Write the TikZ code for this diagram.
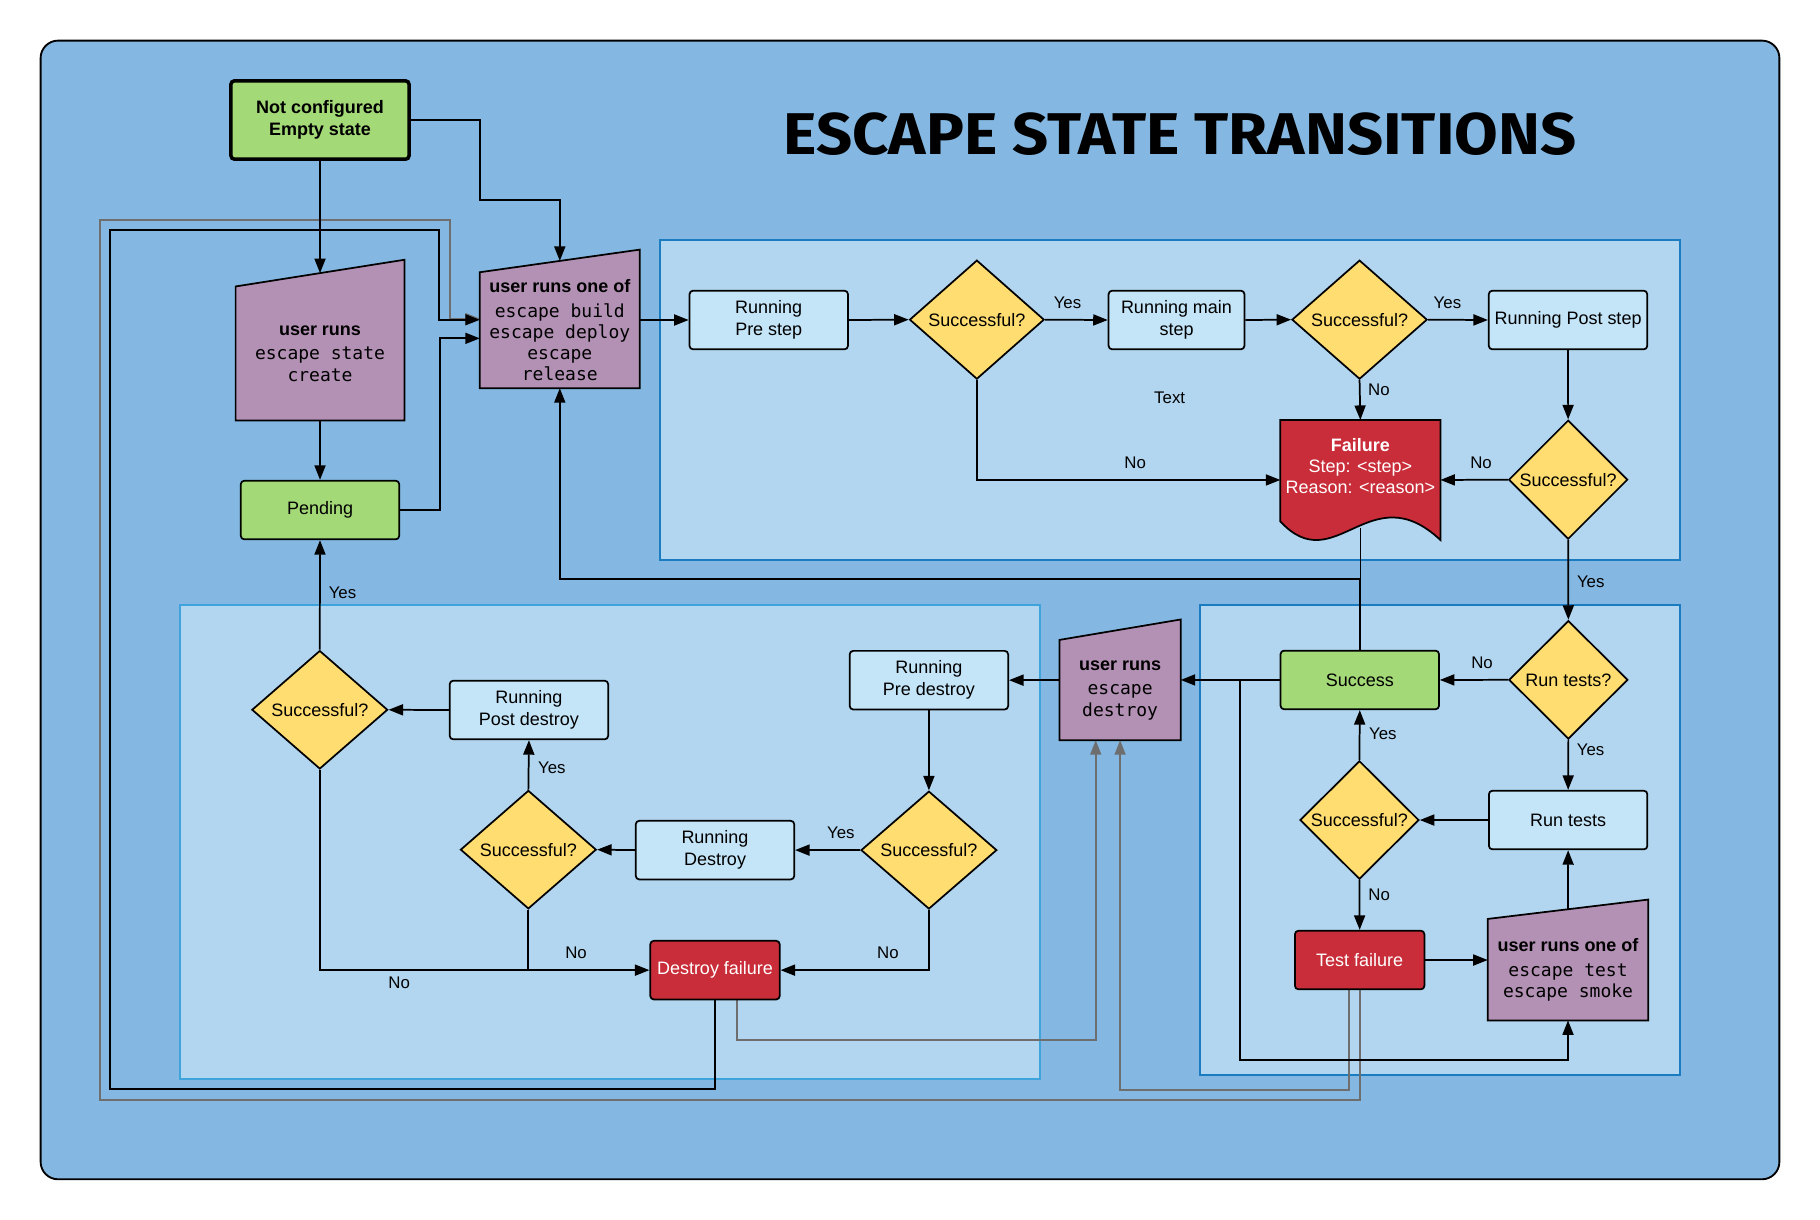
\documentclass[tikz,border=0pt]{standalone}
\usepackage{graphicx}
\usepackage{fontspec}
\setmainfont{Liberation Sans}
\setmonofont{DejaVu Sans Mono}
\newfontfamily\titlefont{Fira Sans}
\usetikzlibrary{shapes.geometric,arrows.meta,calc}

\definecolor{outerbg}{HTML}{84B8E2}
\definecolor{panelbg}{HTML}{B2D6F0}
\definecolor{paneldark}{HTML}{1B7CC0}
\definecolor{panellight}{HTML}{3FA4DC}
\definecolor{boxblue}{HTML}{C4E4F7}
\definecolor{grn}{HTML}{A3D977}
\definecolor{yel}{HTML}{FFDD71}
\definecolor{purp}{HTML}{B391B5}
\definecolor{redc}{HTML}{C92D39}
\definecolor{greyc}{HTML}{6E6E6E}

\pgfdeclarelayer{bglayer}
\pgfdeclarelayer{edgelayer}
\pgfdeclarelayer{shapelayer}
\pgfsetlayers{bglayer,edgelayer,shapelayer,main}

\newcommand\manualshape[2]{%
  \begin{pgfonlayer}{shapelayer}
    \filldraw[fill=purp,draw=black,line width=1.5pt,line join=miter]
      (#1.south west) -- (#1.south east) -- ($(#1.north east)+(0,-#2)$) -- (#1.north west) -- cycle;
  \end{pgfonlayer}}

\begin{document}
\begin{tikzpicture}[x=1pt,y=-1pt,
  base/.style={font=\fontsize{15.5}{19}\selectfont, align=center, inner sep=0pt},
  box/.style={base, rectangle, rounded corners=3pt, draw=black, line width=1.5pt, fill=boxblue,
              minimum width=136.5pt, minimum height=50.5pt},
  greenbox/.style={box, fill=grn},
  redbox/.style={box, fill=redc, text=white, minimum width=111.5pt},
  dia/.style={base, diamond, draw=black, line width=1.5pt, fill=yel, aspect=1.1},
  manual/.style={base, rectangle, draw=none, fill=none, font=\fontsize{15.5}{18.3}\selectfont},
  lbl/.style={font=\fontsize{14.5}{17}\selectfont, inner sep=0pt},
  arr/.style={draw=black, line width=1.5pt, -{Triangle[length=12.5pt,width=9.5pt]}},
  ln/.style={draw=black, line width=1.5pt},
  garr/.style={draw=greyc, line width=1.5pt, -{Triangle[length=12.5pt,width=9.5pt]}}]
\useasboundingbox (0,0) rectangle (1568,1051);

\begin{pgfonlayer}{bglayer}
  \fill[white] (0,0) rectangle (1568,1051);
  \filldraw[fill=outerbg, draw=black, line width=1.6pt, rounded corners=15pt] (35,35) rectangle (1533,1016);
  \filldraw[fill=panelbg, draw=paneldark, line width=1.7pt] (568.5,207) rectangle (1447,482.5);
  \filldraw[fill=panelbg, draw=panellight, line width=1.7pt] (155,521) rectangle (895.8,930);
  \filldraw[fill=panelbg, draw=paneldark, line width=1.7pt] (1033.5,521) rectangle (1447.4,925.8);
\end{pgfonlayer}

% title
\node (title) at (1016.6,115.5) {\resizebox{683pt}{36pt}{\titlefont\bfseries ESCAPE STATE TRANSITIONS}};

% left column
\node[greenbox, line width=3pt, minimum width=153.5pt, minimum height=67.5pt, font=\fontsize{15.5}{19}\selectfont\bfseries]
  (notconf) at (275.7,103.4) {Not configured\\Empty state};
\node[manual, minimum width=145pt, minimum height=115pt] (create) at (275.7,304.5)
  {\textbf{user runs}\\[3pt]\texttt{escape state}\\\texttt{create}};
\manualshape{create}{23}
\coordinate (createtop) at ($(create.north)+(0,-11.5)$);
\node[greenbox] (pending) at (275.7,439.4) {Pending};
\node[manual, minimum width=137.5pt, minimum height=99.5pt] (runsone) at (482.3,284.5)
  {\textbf{user runs one of}\\[3pt]\texttt{escape build}\\\texttt{escape deploy}\\\texttt{escape}\\\texttt{release}};
\manualshape{runsone}{19.5}
\coordinate (runsonetop) at ($(runsone.north)+(0,-9.75)$);

% upper panel
\node[box] (prestep) at (662.3,275.7) {Running\\Pre step};
\node[dia, minimum width=116pt, minimum height=102.5pt] (succ1) at (841.6,275.4) {Successful?};
\node[box, minimum width=117pt] (mainstep) at (1013.6,275.7) {Running main\\step};
\node[dia, minimum width=116.5pt, minimum height=102.5pt] (succ2) at (1171.3,275.4) {Successful?};
\node[box] (poststep) at (1350.9,275.7) {Running Post step};
\node[manual, minimum width=137.5pt, minimum height=103pt, text=white] (failure) at (1172,413.5)
  {\textbf{Failure}\\Step: <step>\\Reason: <reason>\\ \strut};
\begin{pgfonlayer}{shapelayer}
  \filldraw[fill=redc, draw=black, line width=1.5pt]
    (failure.north west) -- (failure.north east) -- (failure.south east)
    .. controls ($(failure.south west)+(77,-57)$) and ($(failure.south west)+(47,35)$) ..
    ($(failure.south west)+(0,-16)$) -- cycle;
\end{pgfonlayer}
\node[dia, minimum width=102.5pt, minimum height=102.5pt, aspect=1] (succ3) at (1351,413.3) {Successful?};
\node[lbl] (txt) at (1007.7,342.3) {Text};

% right lower panel
\node[dia, minimum width=102.5pt, minimum height=102pt, aspect=1] (runtestsq) at (1351.2,585.7) {Run tests?};
\node[greenbox] (success) at (1171.5,585.8) {Success};
\node[box] (runtests) at (1351,706.5) {Run tests};
\node[dia, minimum width=102.5pt, minimum height=102pt, aspect=1] (succ4) at (1171.2,706.5) {Successful?};
\node[redbox] (testfail) at (1171.4,827.1) {Test failure};
\node[manual, minimum width=138pt, minimum height=87pt] (testsmoke) at (1350.9,835.4)
  {\textbf{user runs one of}\\[3pt]\texttt{escape test}\\\texttt{escape smoke}};
\manualshape{testsmoke}{16.7}
\coordinate (testsmoketop) at ($(testsmoke.north)+(0,-8.35)$);
\node[manual, minimum width=104pt, minimum height=86pt] (destroy) at (965,594.5)
  {\textbf{user runs}\\[3pt]\texttt{escape}\\\texttt{destroy}};
\manualshape{destroy}{17.6}

% left lower panel
\node[box] (predestroy) at (800.3,586) {Running\\Pre destroy};
\node[dia, minimum width=117pt, minimum height=101.5pt] (succ5) at (800.3,732.4) {Successful?};
\node[box] (rundestroy) at (616,732.4) {Running\\Destroy};
\node[dia, minimum width=117pt, minimum height=102pt] (succ6) at (455.2,732) {Successful?};
\node[box] (postdestroy) at (455.7,611.7) {Running\\Post destroy};
\node[dia, minimum width=117pt, minimum height=102pt] (succ7) at (275.5,611.5) {Successful?};
\node[redbox] (destroyfail) at (616,835.8) {Destroy failure};

% labels
\node[lbl] (l1) at (919.7,260.8) {Yes};
\node[lbl] (l2) at (1247,260.8) {Yes};
\node[lbl] (l3) at (1188,336) {No};
\node[lbl] (l4) at (978,398.6) {No};
\node[lbl] (l5) at (1276,398.6) {No};
\node[lbl] (l6) at (1370.5,501) {Yes};
\node[lbl] (l7) at (1276.8,571) {No};
\node[lbl] (l8) at (1191.4,632.2) {Yes};
\node[lbl] (l9) at (1370.4,645.9) {Yes};
\node[lbl] (l10) at (1188.2,771.2) {No};
\node[lbl] (l11) at (724.4,717.6) {Yes};
\node[lbl] (l12) at (765,821) {No};
\node[lbl] (l13) at (475.4,661.3) {Yes};
\node[lbl] (l14) at (496.3,821) {No};
\node[lbl] (l15) at (343.9,846.3) {No};
\node[lbl] (l16) at (295.1,510.7) {Yes};

% connectors
\begin{pgfonlayer}{edgelayer}
  % grey
  \draw[garr] (testfail.south) |- (86,947.7) |- (387.7,189.5) |- ([yshift=10pt]runsone.west);
  \draw[garr] ([xshift=-9pt]testfail.south) -- ++(0,86) -| (destroy.south);
  \draw[garr] ([xshift=19pt]destroyfail.south) -- ++(0,34) -| ([xshift=-21pt]destroy.south);
  % black
  \draw[arr] (notconf.south) -- (createtop);
  \draw[arr] (notconf.east) -| (413.5,172) -| (runsonetop);
  \draw[arr] (create.south) -- (pending.north);
  \draw[arr] (pending.east) -| ([xshift=-34.5pt,yshift=-7pt]runsone.west) -- ([yshift=-7pt]runsone.west);
  \draw[arr] (destroyfail.south) |- (94.8,938) |- (378.5,198) |- ([yshift=9pt]runsone.west);
  \draw[arr] (runsone.east |- prestep.west) -- (prestep.west);
  \draw[arr] (prestep.east) -- (succ1.west);
  \draw[arr] (succ1.east) -- (mainstep.west);
  \draw[arr] (mainstep.east) -- (succ2.west);
  \draw[arr] (succ2.east) -- (poststep.west);
  \draw[arr] (succ2.south) -- (failure.north);
  \draw[arr] (succ1.south) |- (failure.west);
  \draw[arr] (poststep.south) -- (succ3.north);
  \draw[arr] (succ3.west) -- (failure.east);
  \draw[arr] (succ3.south) -- (runtestsq.north);
  \draw[arr] (success.north) -- ++(0,-61) -| (runsone.south);
  \draw[ln] ([yshift=10pt]failure.south) -- ++(0,44);
  \draw[arr] (runtestsq.west) -- (success.east);
  \draw[arr] (success.west) -- (success.west -| destroy.east);
  \draw[arr] ([xshift=-34.5pt]success.west) -- ++(0,327.5) -| (testsmoke.south);
  \draw[arr] (runtestsq.south) -- (runtests.north);
  \draw[arr] (runtests.west) -- (succ4.east);
  \draw[arr] (succ4.north) -- (success.south);
  \draw[arr] (succ4.south) -- (testfail.north);
  \draw[arr] (testfail.east) -- (testfail.east -| testsmoke.west);
  \draw[arr] (testsmoketop) -- (runtests.south);
  \draw[arr] (destroy.west |- predestroy.east) -- (predestroy.east);
  \draw[arr] (predestroy.south) -- (succ5.north);
  \draw[arr] (succ5.west) -- (rundestroy.east);
  \draw[arr] (rundestroy.west) -- (succ6.east);
  \draw[arr] (succ6.north) -- (postdestroy.south);
  \draw[arr] (postdestroy.west) -- (succ7.east);
  \draw[arr] (succ7.north) -- (pending.south);
  \draw[arr] (succ5.south) |- (destroyfail.east);
  \draw[arr] (succ6.south) |- (destroyfail.west);
  \draw[ln] (succ7.south) |- (succ6.south |- destroyfail.west);
\end{pgfonlayer}
\end{tikzpicture}
\end{document}
